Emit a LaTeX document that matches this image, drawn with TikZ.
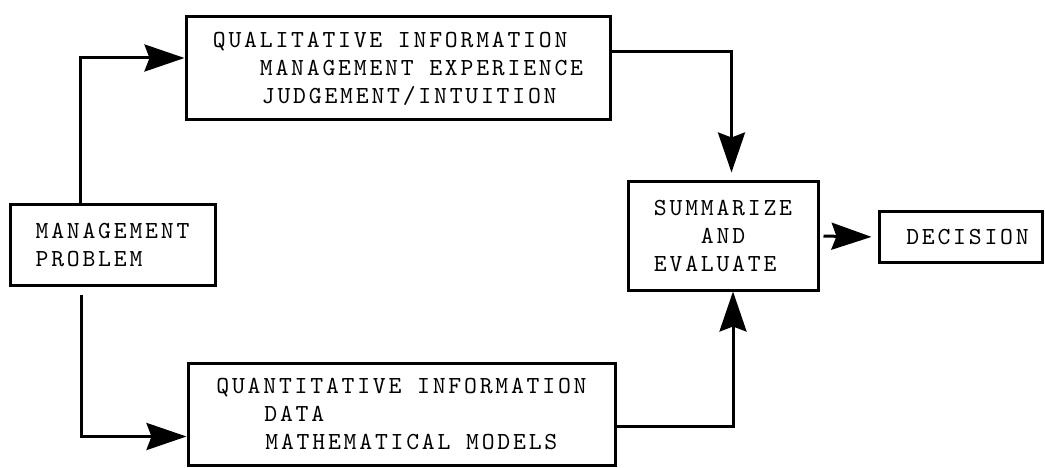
\documentclass[tikz,border=0pt]{standalone}
\usepackage{fontspec}
\newfontfamily\boxfont{lmmono10-regular.otf}[LetterSpace=11.4]
\usetikzlibrary{arrows.meta}

\begin{document}
\begin{tikzpicture}[x=1pt,y=-1pt,
  block/.style={draw, line width=3pt, inner sep=0pt, align=left,
    font=\boxfont\fontsize{24.5}{28}\selectfont},
  flow/.style={line width=3pt, -{Stealth[length=40pt,width=27pt,inset=5pt]}}]
\useasboundingbox (0,0) rectangle (1045,468);

% boxes
\node[block, minimum width=205pt, minimum height=80pt] (mp) at (112.5,245)
  {MANAGEMENT\\PROBLEM};
\node[block, minimum width=424pt, minimum height=103pt] (ql) at (398,68.5)
  {QUALITATIVE INFORMATION\\\hspace*{47pt}MANAGEMENT EXPERIENCE\\\hspace*{49pt}JUDGEMENT/INTUITION};
\node[block, minimum width=427pt, minimum height=102pt] (qn) at (401.5,414.5)
  {QUANTITATIVE INFORMATION\\\hspace*{48pt}DATA\\\hspace*{49pt}MATHEMATICAL MODELS};
\node[block, minimum width=190pt, minimum height=108pt] (sm) at (723,236)
  {SUMMARIZE\\\hspace*{47pt}AND\\EVALUATE};
\node[block, minimum width=163pt, minimum height=50pt] (dc) at (960.5,237)
  {\hspace*{14pt}DECISION};

% connectors
\draw[flow] ([xshift=-32.5pt]mp.north) |- ([yshift=10.5pt]ql.west);
\draw[flow, shorten <=8pt] ([xshift=-31.5pt]mp.south) |- ([yshift=-22pt]qn.west);
\draw[flow, shorten >=8pt] ([yshift=16.5pt]ql.east) -| ([xshift=8.5pt]sm.north);
\draw[flow] ([yshift=-12pt]qn.east) -| ([xshift=10pt]sm.south);
\draw[flow, shorten <=4pt, shorten >=6pt] (sm.east) -- (dc.west);
\end{tikzpicture}
\end{document}
